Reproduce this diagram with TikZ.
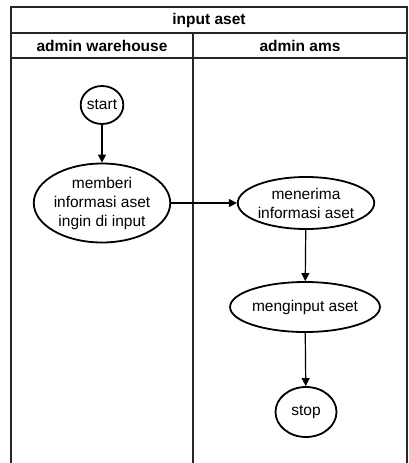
\documentclass[tikz,border=0pt]{standalone}
\usepackage{fontspec}
\setmainfont{Liberation Sans}
\usetikzlibrary{shapes.geometric}
\usetikzlibrary{arrows.meta}

\begin{document}
\begin{tikzpicture}[x=1pt,y=-1pt,font=\fontsize{15.5}{19}\selectfont]

	\tikzstyle{activity} = [draw,ellipse,line width=1.8pt,align=center,inner sep=0pt]
	\tikzstyle{lane} = [draw=black!85,line width=1.3pt]
	\tikzstyle{flow} = [line width=1.2pt,-{Triangle[length=8pt,width=8pt]}]

	\useasboundingbox (0,0) rectangle (408,463);

	% swimlane frame
	\draw[lane] (11,463) -- (11,7) -- (407,7) -- (407,463);
	\draw[lane] (11,33) -- (407,33);
	\draw[lane] (11,58) -- (407,58);
	\draw[lane] (193,33) -- (193,463);

	\node[font=\fontsize{15.5}{19}\selectfont\bfseries] (title) at (209,20) {input aset};
	\node[font=\fontsize{15.5}{19}\selectfont\bfseries] (lanea) at (102,45.5) {admin warehouse};
	\node[font=\fontsize{15.5}{19}\selectfont\bfseries] (laneb) at (300,45.5) {admin ams};

	% admin warehouse
	\node[activity,minimum width=40pt,minimum height=38pt] (start) at (102,105) {start};
	\node[activity,minimum width=130pt,minimum height=79pt] (memberi) at (102,203) {memberi\\informasi aset\\ingin di input};

	% admin ams
	\node[activity,minimum width=131pt,minimum height=52pt] (menerima) at (306,203) {menerima\\informasi aset};
	\node[activity,minimum width=133pt,minimum height=50pt] (menginput) at (305,307) {menginput aset};
	\node[activity,minimum width=61pt,minimum height=50pt] (stop) at (306,412) {stop};

	\draw[flow] (start) -- (memberi);
	\draw[flow] (memberi) -- (menerima);
	\draw[flow] (menerima) -- (menginput);
	\draw[flow] (menginput) -- (stop);
\end{tikzpicture}
\end{document}
